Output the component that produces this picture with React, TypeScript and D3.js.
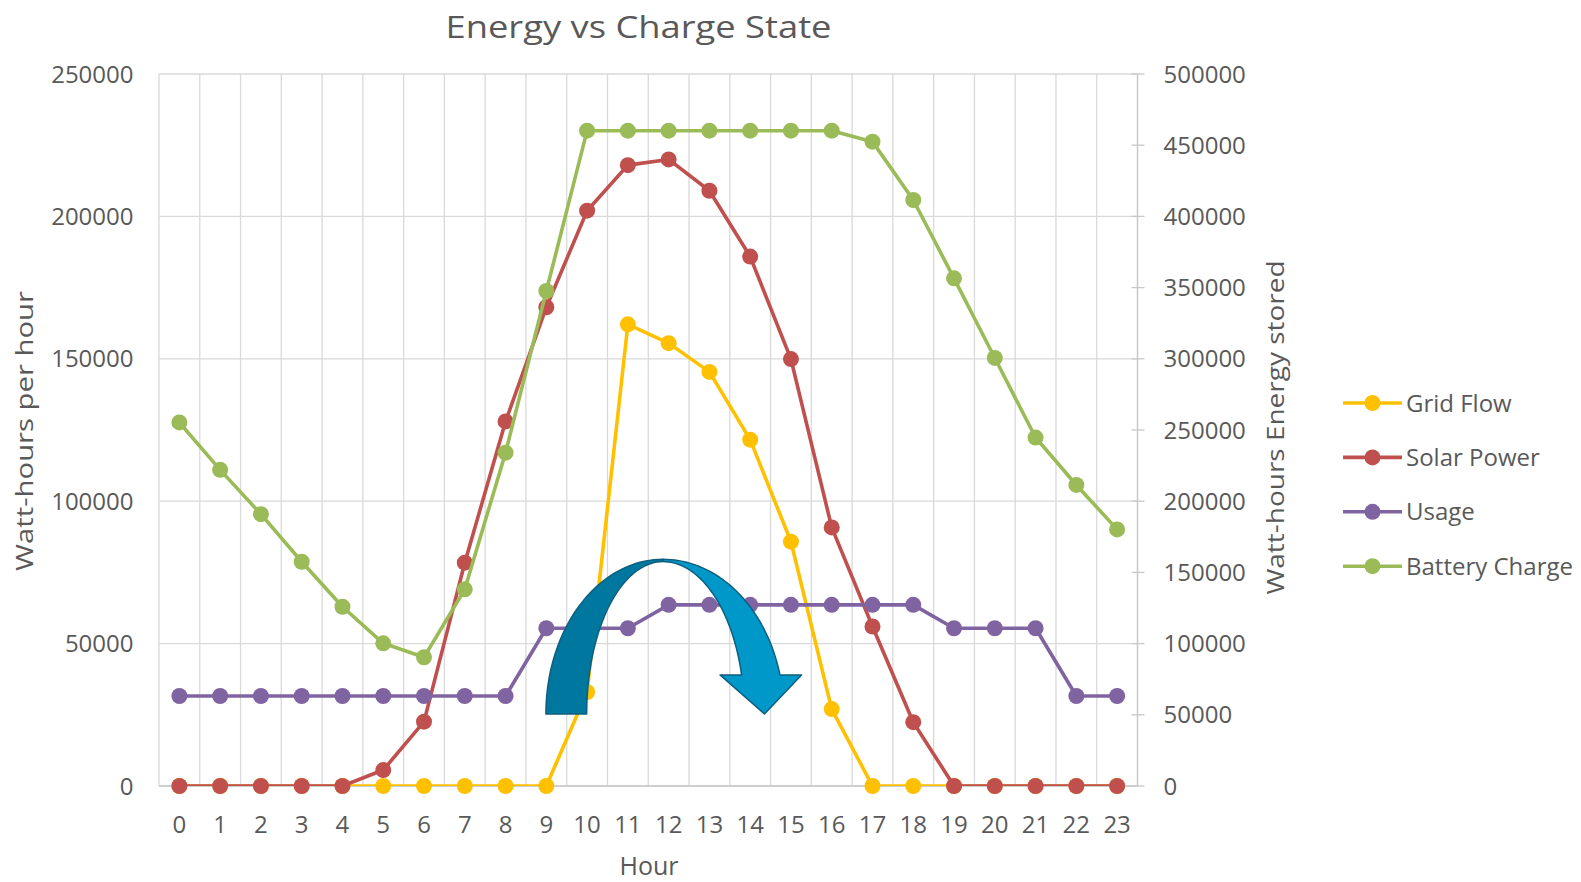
import React from "react";
import * as d3 from "d3";

// ---------- data ----------
const hours = ["0","1","2","3","4","5","6","7","8","9","10","11","12","13","14","15","16","17","18","19","20","21","22","23"];
const gridFlow = [0,0,0,0,0,0,0,0,0,0,33000,162100,155500,145400,121600,85800,27000,0,0,0,0,0,0,0];
const solarPower = [0,0,0,0,0,5600,22600,78400,128000,168100,202000,218000,220000,209000,185900,149900,90800,56000,22400,0,0,0,0,0];
const usage = [31600,31600,31600,31600,31600,31600,31600,31600,31600,55400,55400,55400,63600,63600,63600,63600,63600,63600,63600,55400,55400,55400,31600,31600];
const batteryCharge = [255300,222000,190900,157500,125900,100200,90400,138100,234100,347600,460200,460200,460200,460200,460200,460200,460200,452500,411500,356500,300600,244700,211400,180200];
const leftTicks = [0,50000,100000,150000,200000,250000];
const rightTicks = [0,50000,100000,150000,200000,250000,300000,350000,400000,450000,500000];
const seriesNames = ["Grid Flow","Solar Power","Usage","Battery Charge"];
const seriesColors = ["#FFC000","#C0504D","#8064A2","#9BBB59"];

// curved arrow annotation, in (fractional hour index, left-axis value) units
const arrowHours = { outerLeft: 8.99, innerLeft: 9.99, apex: 11.86, innerRight: 13.79, outerRight: 14.73, wingLeft: 13.26, wingRight: 15.26, tip: 14.35 };
const arrowValues = { base: 25300, top: 79600, innerTop: 78800, headBase: 39000 };

const W = 1581, H = 882;
const M = { left: 159, right: 1137.5, top: 74, bottom: 786 };
const FONT = "'Open Sans', 'Noto Sans', sans-serif";
const TXT = "#595959";

export default function App() {
  const x = d3.scaleBand<string>().domain(hours).range([M.left, M.right]).padding(0);
  const bw = x.bandwidth();
  const cx = (h: string) => (x(h) as number) + bw / 2;
  const hx = (h: number) => M.left + (h + 0.5) * bw;
  const yL = d3.scaleLinear().domain([0, 250000]).range([M.bottom, M.top]);
  const yR = d3.scaleLinear().domain([0, 500000]).range([M.bottom, M.top]);

  const series = [
    { name: seriesNames[0], color: seriesColors[0], vals: gridFlow, y: yL },
    { name: seriesNames[1], color: seriesColors[1], vals: solarPower, y: yL },
    { name: seriesNames[2], color: seriesColors[2], vals: usage, y: yL },
    { name: seriesNames[3], color: seriesColors[3], vals: batteryCharge, y: yR },
  ];

  // arrow geometry
  const ax = hx(arrowHours.apex);
  const by = yL(arrowValues.base);
  const yTop = yL(arrowValues.top);
  const yITop = yL(arrowValues.innerTop);
  const yHead = yL(arrowValues.headBase);
  const ryO = by - yTop;
  const ryI = by - yITop;
  const arc = (rx: number, ry: number, a0: number, a1: number, n = 40) =>
    d3.range(n + 1).map((i) => {
      const a = a0 + ((a1 - a0) * i) / n;
      return [ax + rx * Math.cos(a), by + ry * Math.sin(a)] as [number, number];
    });
  const rxOL = ax - hx(arrowHours.outerLeft);
  const rxIL = ax - hx(arrowHours.innerLeft);
  const darkPts = [
    ...arc(rxOL, ryO, Math.PI, 1.5 * Math.PI),
    ...arc(rxIL, ryI, 1.5 * Math.PI, Math.PI),
  ];
  const aEndO = 2 * Math.PI - Math.asin((by - yHead) / ryO);
  const aEndI = 2 * Math.PI - Math.asin((by - yHead) / ryI);
  const rxOR = (hx(arrowHours.outerRight) - ax) / Math.cos(aEndO);
  const rxIR = (hx(arrowHours.innerRight) - ax) / Math.cos(aEndI);
  const lightPts: [number, number][] = [
    ...arc(rxOR, ryO, 1.5 * Math.PI, aEndO),
    [hx(arrowHours.wingRight), yHead],
    [hx(arrowHours.tip), by],
    [hx(arrowHours.wingLeft), yHead],
    ...arc(rxIR, ryI, aEndI, 1.5 * Math.PI),
  ];
  const poly = d3.line().curve(d3.curveLinearClosed);

  const vLines = d3.range(hours.length + 1).map((i) => M.left + i * bw);

  const legendX0 = 1343, legendX1 = 1402, legendY0 = 403, legendDy = 54.4;
  const TF = 24;

  return (
    <svg width={W} height={H} style={{ position: "absolute", left: 0, top: 0, display: "block", background: "#fff" }} fontFamily={FONT}>
      <defs>
        <clipPath id="plotClip">
          <rect x={M.left} y={M.top} width={M.right - M.left} height={M.bottom - M.top} />
        </clipPath>
      </defs>
      <rect x={0} y={0} width={W} height={H} fill="#fff" />
      {/* title */}
      <text x={638.5} y={27 + 0.357 * 31} textAnchor="middle" fontSize={31} fill={TXT} textLength={386} lengthAdjust="spacingAndGlyphs">Energy vs Charge State</text>

      {/* gridlines */}
      <g stroke="#d9d9d9" strokeWidth={1.3}>
        {leftTicks.map((t) => (
          <line key={"h" + t} x1={M.left} x2={M.right} y1={yL(t)} y2={yL(t)} />
        ))}
        {vLines.map((vx, i) => (
          <line key={"v" + i} x1={vx} x2={vx} y1={M.top} y2={M.bottom} />
        ))}
      </g>
      {/* right axis line & ticks */}
      <g stroke="#c8c8c8" strokeWidth={1.3}>
        <line x1={M.right} x2={M.right} y1={M.top} y2={M.bottom} />
        {rightTicks.map((t) => (
          <line key={"rt" + t} x1={M.right - 6} x2={M.right + 7} y1={yR(t)} y2={yR(t)} />
        ))}
        <line x1={M.left} x2={M.right} y1={M.bottom} y2={M.bottom} />
      </g>

      {/* tick labels */}
      <g fontSize={TF} fill={TXT}>
        {leftTicks.map((t) => (
          <text key={"lt" + t} x={133.5} y={yL(t) + 0.357 * TF} textAnchor="end">{t}</text>
        ))}
        {rightTicks.map((t) => (
          <text key={"rl" + t} x={1163.5} y={yR(t) + 0.357 * TF} textAnchor="start">{t}</text>
        ))}
        {hours.map((h) => (
          <text key={"x" + h} x={cx(h)} y={824 + 0.357 * TF} textAnchor="middle">{h}</text>
        ))}
      </g>

      {/* axis titles */}
      <text x={649} y={866 + 0.357 * 25} textAnchor="middle" fontSize={25} fill={TXT}>Hour</text>
      <text transform={`translate(${26 + 0.3 * 24},431) rotate(-90)`} textAnchor="middle" fontSize={24} fill={TXT} textLength={280} lengthAdjust="spacingAndGlyphs">Watt-hours per hour</text>
      <text transform={`translate(${1276.5 + 0.3 * 24},427.5) rotate(-90)`} textAnchor="middle" fontSize={24} fill={TXT} textLength={334} lengthAdjust="spacingAndGlyphs">Watt-hours Energy stored</text>

      {/* series */}
      {series.map((s) => {
        const line = d3.line<number>().x((_, i) => cx(hours[i])).y((v) => s.y(v));
        return (
          <g key={s.name}>
            <path d={line(s.vals) || ""} fill="none" stroke={s.color} strokeWidth={3.6} strokeLinejoin="round" clipPath="url(#plotClip)" />
            {s.vals.map((v, i) => (
              <circle key={i} cx={cx(hours[i])} cy={s.y(v)} r={8} fill={s.color} />
            ))}
          </g>
        );
      })}

      {/* curved arrow */}
      <g stroke="#0d5f7f" strokeWidth={1.5} strokeLinejoin="round">
        <path d={poly(darkPts as [number, number][]) || ""} fill="#00779f" />
        <path d={poly(lightPts) || ""} fill="#0098c8" />
      </g>

      {/* legend */}
      {series.map((s, i) => {
        const ly = legendY0 + i * legendDy;
        return (
          <g key={"lg" + s.name}>
            <line x1={legendX0} x2={legendX1} y1={ly} y2={ly} stroke={s.color} strokeWidth={3.6} />
            <circle cx={(legendX0 + legendX1) / 2} cy={ly} r={8} fill={s.color} />
            <text x={1406} y={ly + 0.357 * 24} fontSize={24} fill={TXT}>{s.name}</text>
          </g>
        );
      })}
    </svg>
  );
}
